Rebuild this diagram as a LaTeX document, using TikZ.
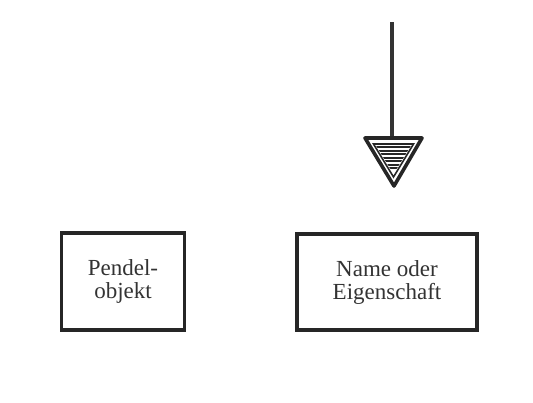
\documentclass[tikz,border=0pt]{standalone}
\usepackage{fontspec}
\setmainfont{Liberation Serif}
\begin{document}
\begin{tikzpicture}[x=1pt,y=-1pt,
  box/.style={draw=black!85, line width=3.4pt, align=center, inner sep=0pt,
    font=\fontsize{23}{23}\selectfont, text=black!80},
  stem/.style={draw=black!80, line width=3.2pt},
  tri/.style={draw=black!85, line width=3.6pt, line join=round},
  hatch/.style={draw=black!85, line width=2pt}]
\useasboundingbox (0,0) rectangle (533,402);
\node[box, minimum width=123pt, minimum height=97pt] (pendel) at (123,281.5) {Pendel-\\objekt};
\node[box, minimum width=180pt, minimum height=96pt] (name) at (387,282) {Name oder\\Eigenschaft};
\coordinate (top) at (392,22);
\coordinate (tritop) at (392,138);
\draw[stem] (top) -- (tritop);
\draw[tri] (365,138) -- (422,138) -- (394,186) -- cycle;
\draw[draw=black!85, line width=1.6pt] (373.5,144) -- (413.5,144) -- (393.5,177) -- cycle;
\begin{scope}
\clip (375,144) -- (412,144) -- (393.5,174) -- cycle;
\foreach \y in {147,150.5,154,157.5,161,164.5,168}
  \draw[hatch] (370,\y) -- (418,\y);
\end{scope}
\end{tikzpicture}
\end{document}
